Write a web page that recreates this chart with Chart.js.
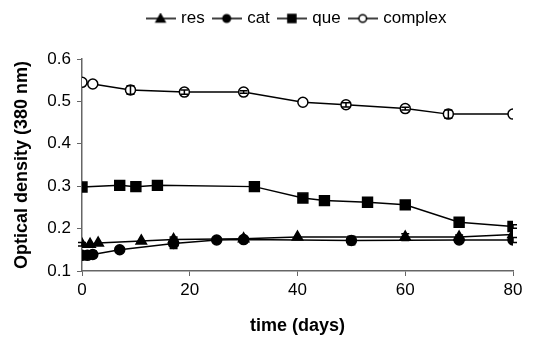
<!DOCTYPE html>
<html>
<head>
<meta charset="utf-8">
<script src="https://cdn.jsdelivr.net/npm/chart.js@4.4.0/dist/chart.umd.min.js"></script>
<style>
  html, body { margin: 0; padding: 0; background: #fff; }
  #wrap { width: 559px; height: 341px; }
</style>
</head>
<body>
<div id="wrap"><canvas id="odChart" width="559" height="341"></canvas></div>
<script>
// --- data ---
const res_days = [0, 1.5, 3, 11, 17, 30, 40, 60, 70, 80];
const res_od   = [0.163, 0.163, 0.166, 0.171, 0.174, 0.176, 0.180, 0.180, 0.180, 0.186];
const res_err  = [0.004, 0, 0, 0, 0.006, 0, 0, 0.008, 0.005, 0];

const cat_days = [0, 1, 2, 7, 17, 25, 30, 50, 70, 80];
const cat_od   = [0.137, 0.137, 0.139, 0.150, 0.165, 0.173, 0.174, 0.172, 0.173, 0.173];
const cat_err  = [0, 0, 0.008, 0, 0.012, 0, 0.004, 0.010, 0.006, 0.006];

const que_days = [0, 7, 10, 14, 32, 41, 45, 53, 60, 70, 80];
const que_od   = [0.298, 0.302, 0.299, 0.302, 0.299, 0.272, 0.266, 0.262, 0.256, 0.215, 0.205];
const que_err  = [0, 0, 0.008, 0, 0.008, 0, 0, 0.010, 0, 0.004, 0.004];

const complex_days = [0, 2, 9, 19, 30, 41, 49, 60, 68, 80];
const complex_od   = [0.545, 0.541, 0.527, 0.522, 0.522, 0.498, 0.492, 0.483, 0.470, 0.470];
const complex_err  = [0, 0, 0.010, 0.005, 0.003, 0, 0.005, 0.003, 0.010, 0];

const xTicks = [0, 20, 40, 60, 80];
const yTicks = [0.1, 0.2, 0.3, 0.4, 0.5, 0.6];

const FONT = '"Liberation Sans", Arial, sans-serif';

function pts(xs, ys) {
  return xs.map((x, i) => ({ x: x, y: ys[i] }));
}

// legend swatch: short line with the marker in the middle
function swatch(style, filled) {
  const c = document.createElement('canvas');
  c.width = 30; c.height = 12;
  const g = c.getContext('2d');
  g.strokeStyle = '#000';
  g.fillStyle = filled ? '#000' : '#fff';
  g.lineWidth = 1.5;
  g.beginPath(); g.moveTo(0, 6); g.lineTo(30, 6); g.stroke();
  g.beginPath();
  if (style === 'triangle') {
    g.moveTo(15, 1.5); g.lineTo(19.5, 9.5); g.lineTo(10.5, 9.5); g.closePath();
  } else if (style === 'rect') {
    g.rect(11, 2, 8, 8);
  } else {
    g.arc(15, 6, 3.8, 0, Math.PI * 2);
  }
  g.fill(); g.stroke();
  return c;
}

function series(label, xs, ys, errs, style, filled, radius) {
  return {
    label: label,
    data: pts(xs, ys),
    errors: errs,
    showLine: true,
    borderColor: '#000',
    borderWidth: 1.5,
    pointStyle: style,
    pointRadius: radius,
    pointBorderWidth: 1.5,
    pointBorderColor: '#000',
    pointBackgroundColor: filled ? '#000' : '#fff',
    legendSwatch: swatch(style, filled)
  };
}

// --- error bars, drawn through the scales ---
const errorBars = {
  id: 'errorBars',
  afterDatasetsDraw(chart) {
    const g = chart.ctx;
    const xs = chart.scales.x, ys = chart.scales.y;
    g.save();
    g.strokeStyle = '#000';
    g.lineWidth = 1.5;
    chart.data.datasets.forEach(ds => {
      ds.data.forEach((p, i) => {
        const e = ds.errors[i];
        if (!e) return;
        const px = xs.getPixelForValue(p.x);
        const top = ys.getPixelForValue(p.y + e);
        const bot = ys.getPixelForValue(p.y - e);
        g.beginPath();
        g.moveTo(px, top); g.lineTo(px, bot);
        g.moveTo(px - 4, top); g.lineTo(px + 4, top);
        g.moveTo(px - 4, bot); g.lineTo(px + 4, bot);
        g.stroke();
      });
    });
    g.restore();
  }
};

// extra space under the legend
const legendGap = {
  id: 'legendGap',
  beforeInit(chart) {
    const fit = chart.legend.fit;
    chart.legend.fit = function () {
      fit.bind(chart.legend)();
      this.height += 22;
    };
  }
};

const odChart = new Chart(document.getElementById('odChart'), {
  type: 'scatter',
  data: {
    datasets: [
      series('res', res_days, res_od, res_err, 'triangle', true, 6),
      series('cat', cat_days, cat_od, cat_err, 'circle', true, 5),
      series('que', que_days, que_od, que_err, 'rect', true, 7),
      series('complex', complex_days, complex_od, complex_err, 'circle', false, 5)
    ]
  },
  options: {
    responsive: false,
    animation: false,
    layout: { padding: { left: 0, right: 46, top: 0, bottom: 0 } },
    plugins: {
      tooltip: { enabled: false },
      legend: {
        position: 'top',
        fullSize: false,
        labels: {
          color: '#000',
          font: { family: FONT, size: 17 },
          usePointStyle: true,
          pointStyleWidth: 24,
          boxHeight: 12,
          padding: 10,
          generateLabels(chart) {
            return chart.data.datasets.map((ds, i) => ({
              text: ds.label,
              pointStyle: ds.legendSwatch,
              fontColor: '#000',
              strokeStyle: '#000',
              fillStyle: '#000',
              lineWidth: 0,
              datasetIndex: i
            }));
          }
        }
      }
    },
    scales: {
      x: {
        type: 'linear',
        min: 0, max: 80,
        afterBuildTicks(scale) { scale.ticks = xTicks.map(v => ({ value: v })); },
        afterFit(scale) { scale.height = 70; },
        border: { color: '#666', width: 1.5 },
        grid: { display: true, drawOnChartArea: false, drawTicks: true, tickLength: 5, color: '#666' },
        ticks: { color: '#000', font: { family: FONT, size: 17 }, padding: 4, maxRotation: 0 },
        title: { display: true, text: 'time (days)', color: '#000', font: { family: FONT, size: 18, weight: 'bold' }, padding: { top: 0, bottom: 4 } }
      },
      y: {
        min: 0.1, max: 0.6,
        afterBuildTicks(scale) { scale.ticks = yTicks.map(v => ({ value: v })); },
        afterFit(scale) { scale.width = 82; },
        border: { color: '#666', width: 1.5 },
        grid: { display: true, drawOnChartArea: false, drawTicks: true, tickLength: 5, color: '#666' },
        ticks: { color: '#000', font: { family: FONT, size: 17 }, padding: 6, callback: v => v.toFixed(1) },
        title: { display: true, text: 'Optical density (380 nm)', color: '#000', font: { family: FONT, size: 18, weight: 'bold' }, padding: { top: 11, bottom: 0 } }
      }
    }
  },
  plugins: [errorBars, legendGap]
});
</script>
</body>
</html>
